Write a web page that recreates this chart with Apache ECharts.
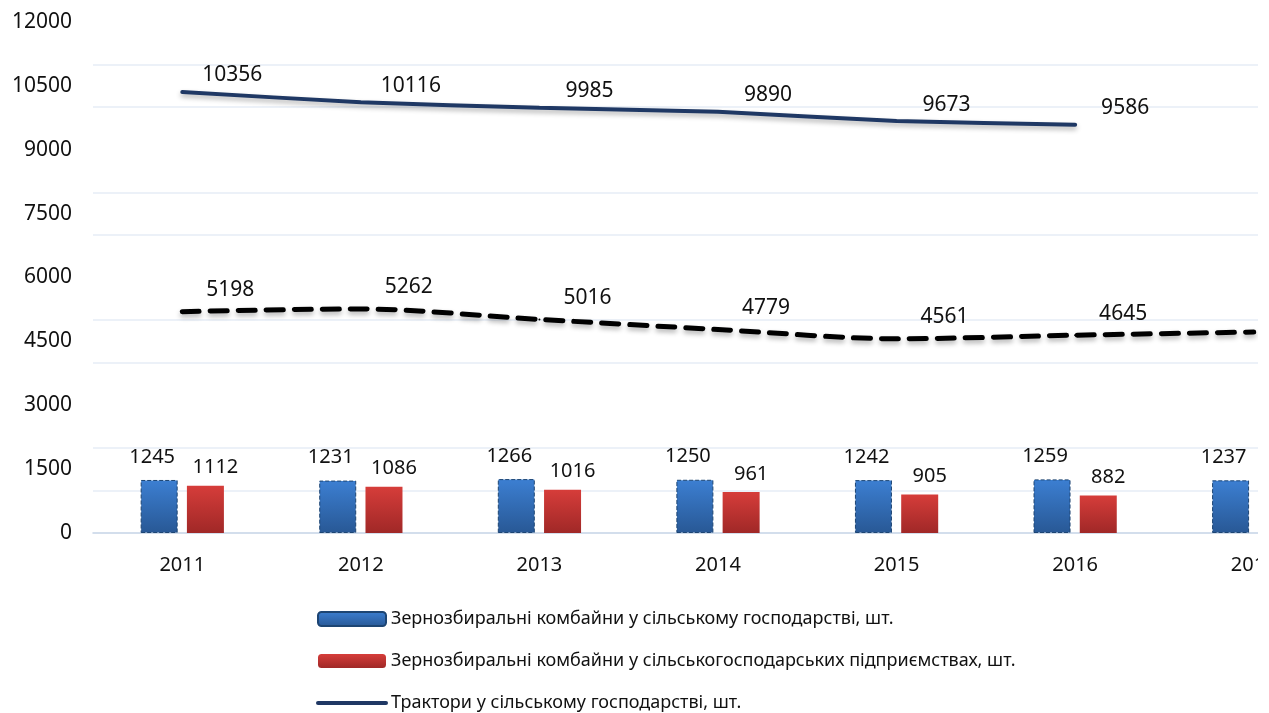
<!DOCTYPE html>
<html lang="uk">
<head>
    <meta charset="UTF-8">
    <title>Комбайни і трактори</title>
    <script src="https://cdn.jsdelivr.net/npm/echarts@6/dist/echarts.min.js"></script>
    <style>
        html, body { margin: 0; padding: 0; background: #fff; overflow: hidden; }
        /* на рисунку праву частину діаграми обрізано */
        #wrap { width: 1258px; height: 713px; overflow: hidden; }
        #box { width: 1343px; height: 760px; }
    </style>
</head>
<body>
<div id="wrap"><div id="box"></div></div>
<script>
    // дані
    var years = ['2011', '2012', '2013', '2014', '2015', '2016', '2017'];
    var combinesTotal = [1245, 1231, 1266, 1250, 1242, 1259, 1237];
    var combinesEnterprises = [1112, 1086, 1016, 961, 905, 882, 860];
    var tractorsTotal = [10356, 10116, 9985, 9890, 9673, 9586, null];
    var tractorsEnterprises = [5198, 5262, 5016, 4779, 4561, 4645, 4720];
    // лінії сітки, що видно на рисунку (кожні 1000, без кратних 3000)
    var gridValues = [1000, 2000, 4000, 5000, 7000, 8000, 10000, 11000];

    var names = [
        'Зернозбиральні комбайни у сільському господарстві, шт.',
        'Зернозбиральні комбайни у сільськогосподарських підприємствах, шт.',
        'Трактори у сільському господарстві, шт.',
        'Трактори у сільськогосподарських підприємствах, шт.'
    ];

    var font = '"Noto Sans", "Open Sans", sans-serif';
    var myChart = echarts.init(document.getElementById('box'));

    var option = {
        animation: false,
        textStyle: { fontFamily: font },
        grid: { left: 93, right: 0, top: 22, bottom: 227 },
        legend: {
            data: [
                names[0],
                names[1],
                { name: names[2], itemStyle: { opacity: 0 }, lineStyle: { width: 4, cap: 'round' } }
            ],
            orient: 'vertical',
            left: 311,
            top: 605,
            itemWidth: 68,
            itemHeight: 14,
            itemGap: 24,
            textStyle: { fontSize: 18, color: '#111', fontFamily: font }
        },
        xAxis: {
            type: 'category',
            data: years,
            axisTick: { show: false },
            axisLine: { lineStyle: { color: '#c5d3e6', width: 1.5 } },
            axisLabel: { fontSize: 20, color: '#111', margin: 22 }
        },
        yAxis: {
            type: 'value',
            min: 0,
            max: 12000,
            interval: 1500,
            splitLine: { show: false },
            axisLine: { show: false },
            axisTick: { show: false },
            axisLabel: {
                fontSize: 21, color: '#111', margin: 21,
                formatter: function (v) { return String(v); }
            }
        },
        series: [
            {
                // лише лінії сітки
                type: 'line',
                data: [],
                z: 0,
                silent: true,
                markLine: {
                    silent: true,
                    z: 0,
                    symbol: 'none',
                    label: { show: false },
                    lineStyle: { color: '#e6edf6', type: 'solid', width: 1.5 },
                    data: gridValues.map(function (v) { return { yAxis: v }; })
                }
            },
            {
                name: names[0],
                type: 'bar',
                data: combinesTotal,
                barWidth: 37,
                barGap: '25%',
                itemStyle: {
                    color: new echarts.graphic.LinearGradient(0, 0, 0, 1, [
                        { offset: 0, color: '#3c7fd2' },
                        { offset: 1, color: '#285895' }
                    ]),
                    borderColor: '#1d4573',
                    borderWidth: 1,
                    borderType: 'dashed'
                },
                label: {
                    show: true, position: 'top', distance: 5, offset: [-7, -8],
                    fontSize: 20, color: '#111'
                }
            },
            {
                name: names[1],
                type: 'bar',
                data: combinesEnterprises,
                barWidth: 37,
                itemStyle: {
                    color: new echarts.graphic.LinearGradient(0, 0, 0, 1, [
                        { offset: 0, color: '#d63d3a' },
                        { offset: 1, color: '#a02827' }
                    ])
                },
                label: {
                    show: true, position: 'top', distance: 5, offset: [10, -3],
                    fontSize: 20, color: '#111'
                }
            },
            {
                name: names[2],
                type: 'line',
                data: tractorsTotal,
                smooth: 0.15,
                symbol: 'circle',
                symbolSize: 2,
                showSymbol: true,
                lineStyle: {
                    color: '#1f3864', width: 4, cap: 'round',
                    shadowColor: 'rgba(0,0,0,0.3)', shadowBlur: 5, shadowOffsetY: 3
                },
                itemStyle: { color: '#1f3864' },
                label: {
                    show: true, position: 'top', distance: 5, offset: [50, 0],
                    fontSize: 21, color: '#111'
                }
            },
            {
                name: names[3],
                type: 'line',
                data: tractorsEnterprises,
                smooth: 0.3,
                symbol: 'circle',
                symbolSize: 2,
                showSymbol: true,
                lineStyle: {
                    color: '#000', width: 5, type: [17, 11], cap: 'round',
                    shadowColor: 'rgba(0,0,0,0.3)', shadowBlur: 5, shadowOffsetY: 3
                },
                itemStyle: { color: '#000' },
                label: {
                    show: true, position: 'top', distance: 5, offset: [48, -5],
                    fontSize: 21, color: '#111'
                }
            }
        ]
    };
    myChart.setOption(option);
</script>
</body>
</html>
